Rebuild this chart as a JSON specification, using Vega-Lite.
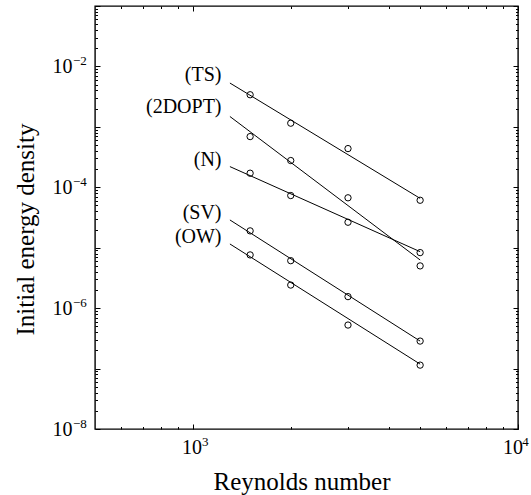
{
  "$schema": "https://vega.github.io/schema/vega-lite/v6.json",
  "width": 423,
  "height": 423,
  "autosize": "none",
  "padding": {"left": 95, "top": 6, "right": 13, "bottom": 66},
  "background": "white",
  "config": {
    "view": {"stroke": "black", "strokeWidth": 1.4},
    "font": "Liberation Serif",
    "axis": {
      "domain": false,
      "grid": false,
      "labelFont": "Liberation Serif",
      "titleFont": "Liberation Serif",
      "labelColor": "black",
      "titleColor": "black",
      "tickColor": "black",
      "tickWidth": 1,
      "titleFontWeight": "normal",
      "labelFontSize": 20,
      "titleFontSize": 25,
      "labelOverlap": false,
      "labelBound": false
    }
  },
  "datasets": {
    "points": [
      {"series": "TS", "Re": 1500, "E": 0.0034},
      {"series": "TS", "Re": 2000, "E": 0.00115},
      {"series": "TS", "Re": 3000, "E": 0.000437},
      {"series": "TS", "Re": 5000, "E": 0.000061},
      {"series": "2DOPT", "Re": 1500, "E": 0.00069},
      {"series": "2DOPT", "Re": 2000, "E": 0.000277},
      {"series": "2DOPT", "Re": 3000, "E": 0.000067},
      {"series": "2DOPT", "Re": 5000, "E": 0.000005},
      {"series": "N", "Re": 1500, "E": 0.000171},
      {"series": "N", "Re": 2000, "E": 0.000073},
      {"series": "N", "Re": 3000, "E": 0.0000264},
      {"series": "N", "Re": 5000, "E": 0.0000083},
      {"series": "SV", "Re": 1500, "E": 0.000019},
      {"series": "SV", "Re": 2000, "E": 0.0000061},
      {"series": "SV", "Re": 3000, "E": 0.00000155},
      {"series": "SV", "Re": 5000, "E": 0.000000285},
      {"series": "OW", "Re": 1500, "E": 0.0000076},
      {"series": "OW", "Re": 2000, "E": 0.00000241},
      {"series": "OW", "Re": 3000, "E": 0.000000525},
      {"series": "OW", "Re": 5000, "E": 0.000000114}
    ],
    "fits": [
      {"series": "TS", "Re": 1300, "E": 0.00531},
      {"series": "TS", "Re": 5000, "E": 0.0000655},
      {"series": "2DOPT", "Re": 1300, "E": 0.001484},
      {"series": "2DOPT", "Re": 5000, "E": 0.00000627},
      {"series": "N", "Re": 1300, "E": 0.00022},
      {"series": "N", "Re": 5000, "E": 0.0000086},
      {"series": "SV", "Re": 1300, "E": 0.0000288},
      {"series": "SV", "Re": 5000, "E": 0.000000285},
      {"series": "OW", "Re": 1300, "E": 0.00001153},
      {"series": "OW", "Re": 5000, "E": 0.0000001185}
    ],
    "tags": [
      {"tag": "(TS)", "Re": 1225, "E": 0.00729},
      {"tag": "(2DOPT)", "Re": 1225, "E": 0.00217},
      {"tag": "(N)", "Re": 1225, "E": 0.000285},
      {"tag": "(SV)", "Re": 1225, "E": 0.0000372},
      {"tag": "(OW)", "Re": 1225, "E": 0.0000152}
    ]
  },
  "resolve": {"axis": {"x": "independent", "y": "independent"}},
  "layer": [
    {
      "data": {"name": "fits"},
      "mark": {"type": "line", "color": "black", "strokeWidth": 1},
      "encoding": {
        "x": {
          "field": "Re",
          "type": "quantitative",
          "scale": {"type": "log", "domain": [500, 10000]},
          "axis": {
            "orient": "bottom",
            "values": [1000, 10000],
            "ticks": false,
            "labelExpr": "'10'",
            "labelAlign": "center",
            "labelBaseline": "alphabetic",
            "labelPadding": 24,
            "labelOffset": {"condition": {"test": "datum.value > 5000", "value": -5.5}, "value": -1.3},
            "title": "Reynolds number",
            "titleX": 206.5,
            "titleY": 60,
            "titleAlign": "center",
            "titleBaseline": "alphabetic"
          }
        },
        "y": {
          "field": "E",
          "type": "quantitative",
          "scale": {"type": "log", "domain": [1e-8, 0.1]},
          "axis": {
            "orient": "left",
            "values": [1e-8, 1e-6, 1e-4, 1e-2],
            "ticks": false,
            "labelExpr": "'10'",
            "labelAlign": "right",
            "labelBaseline": "middle",
            "labelPadding": 23,
            "title": "Initial energy density",
            "titleX": -62,
            "titleY": 223,
            "titleAngle": -90,
            "titleAlign": "center",
            "titleBaseline": "alphabetic"
          }
        },
        "detail": {"field": "series"}
      }
    },
    {
      "data": {"name": "points"},
      "mark": {"type": "point", "shape": "circle", "filled": false, "color": "black", "strokeWidth": 1, "size": 40, "opacity": 1},
      "encoding": {
        "x": {
          "field": "Re",
          "type": "quantitative",
          "scale": {"type": "log", "domain": [500, 10000]},
          "axis": {
            "orient": "bottom",
            "values": [1000, 10000],
            "ticks": false,
            "labelExpr": "round(log(datum.value) / LN10) + ''",
            "labelFontSize": 13,
            "labelAlign": "left",
            "labelBaseline": "alphabetic",
            "labelPadding": 16,
            "labelOffset": {"condition": {"test": "datum.value > 5000", "value": 3.7}, "value": 8.7},
            "title": null
          }
        },
        "y": {
          "field": "E",
          "type": "quantitative",
          "scale": {"type": "log", "domain": [1e-8, 0.1]},
          "axis": {
            "orient": "left",
            "values": [1e-8, 1e-6, 1e-4, 1e-2],
            "ticks": false,
            "labelExpr": "'\u2212' + abs(round(log(datum.value) / LN10))",
            "labelFontSize": 13,
            "labelAlign": "left",
            "labelBaseline": "middle",
            "labelPadding": 22.5,
            "labelOffset": -6,
            "title": null
          }
        }
      }
    },
    {
      "data": {"name": "tags"},
      "mark": {"type": "text", "align": "right", "baseline": "middle", "font": "Liberation Serif", "fontSize": 20, "color": "black"},
      "encoding": {
        "x": {
          "field": "Re",
          "type": "quantitative",
          "scale": {"type": "log", "domain": [500, 10000]},
          "axis": {
            "orient": "bottom",
            "values": [600, 700, 800, 900, 1000, 2000, 3000, 4000, 5000, 6000, 7000, 8000, 9000, 10000],
            "labels": false,
            "tickSize": {"condition": {"test": "abs(log(datum.value)/LN10 - round(log(datum.value)/LN10)) < 0.001", "value": -5}, "value": -2.5},
            "title": null
          }
        },
        "y": {
          "field": "E",
          "type": "quantitative",
          "scale": {"type": "log", "domain": [1e-8, 0.1]},
          "axis": {
            "orient": "left",
            "values": [1e-8, 2e-8, 3e-8, 4e-8, 5e-8, 6e-8, 7e-8, 8e-8, 9e-8, 1e-7, 2e-7, 3e-7, 4e-7, 5e-7, 6e-7, 7e-7, 8e-7, 9e-7, 1e-6, 2e-6, 3e-6, 4e-6, 5e-6, 6e-6, 7e-6, 8e-6, 9e-6, 1e-5, 2e-5, 3e-5, 4e-5, 5e-5, 6e-5, 7e-5, 8e-5, 9e-5, 1e-4, 2e-4, 3e-4, 4e-4, 5e-4, 6e-4, 7e-4, 8e-4, 9e-4, 1e-3, 2e-3, 3e-3, 4e-3, 5e-3, 6e-3, 7e-3, 8e-3, 9e-3, 1e-2, 2e-2, 3e-2, 4e-2, 5e-2, 6e-2, 7e-2, 8e-2, 9e-2, 1e-1],
            "labels": false,
            "tickSize": {"condition": {"test": "abs(log(datum.value)/LN10 - round(log(datum.value)/LN10)) < 0.001", "value": -5}, "value": -2.5},
            "title": null
          }
        },
        "text": {"field": "tag"}
      }
    },
    {
      "data": {"name": "points"},
      "mark": {"type": "point", "opacity": 0},
      "encoding": {
        "x": {
          "field": "Re",
          "type": "quantitative",
          "scale": {"type": "log", "domain": [500, 10000]},
          "axis": {
            "orient": "top",
            "values": [600, 700, 800, 900, 1000, 2000, 3000, 4000, 5000, 6000, 7000, 8000, 9000, 10000],
            "labels": false,
            "tickSize": {"condition": {"test": "abs(log(datum.value)/LN10 - round(log(datum.value)/LN10)) < 0.001", "value": -5}, "value": -2.5},
            "title": null
          }
        },
        "y": {
          "field": "E",
          "type": "quantitative",
          "scale": {"type": "log", "domain": [1e-8, 0.1]},
          "axis": {
            "orient": "right",
            "values": [1e-8, 2e-8, 3e-8, 4e-8, 5e-8, 6e-8, 7e-8, 8e-8, 9e-8, 1e-7, 2e-7, 3e-7, 4e-7, 5e-7, 6e-7, 7e-7, 8e-7, 9e-7, 1e-6, 2e-6, 3e-6, 4e-6, 5e-6, 6e-6, 7e-6, 8e-6, 9e-6, 1e-5, 2e-5, 3e-5, 4e-5, 5e-5, 6e-5, 7e-5, 8e-5, 9e-5, 1e-4, 2e-4, 3e-4, 4e-4, 5e-4, 6e-4, 7e-4, 8e-4, 9e-4, 1e-3, 2e-3, 3e-3, 4e-3, 5e-3, 6e-3, 7e-3, 8e-3, 9e-3, 1e-2, 2e-2, 3e-2, 4e-2, 5e-2, 6e-2, 7e-2, 8e-2, 9e-2, 1e-1],
            "labels": false,
            "tickSize": {"condition": {"test": "abs(log(datum.value)/LN10 - round(log(datum.value)/LN10)) < 0.001", "value": -5}, "value": -2.5},
            "title": null
          }
        }
      }
    }
  ]
}
